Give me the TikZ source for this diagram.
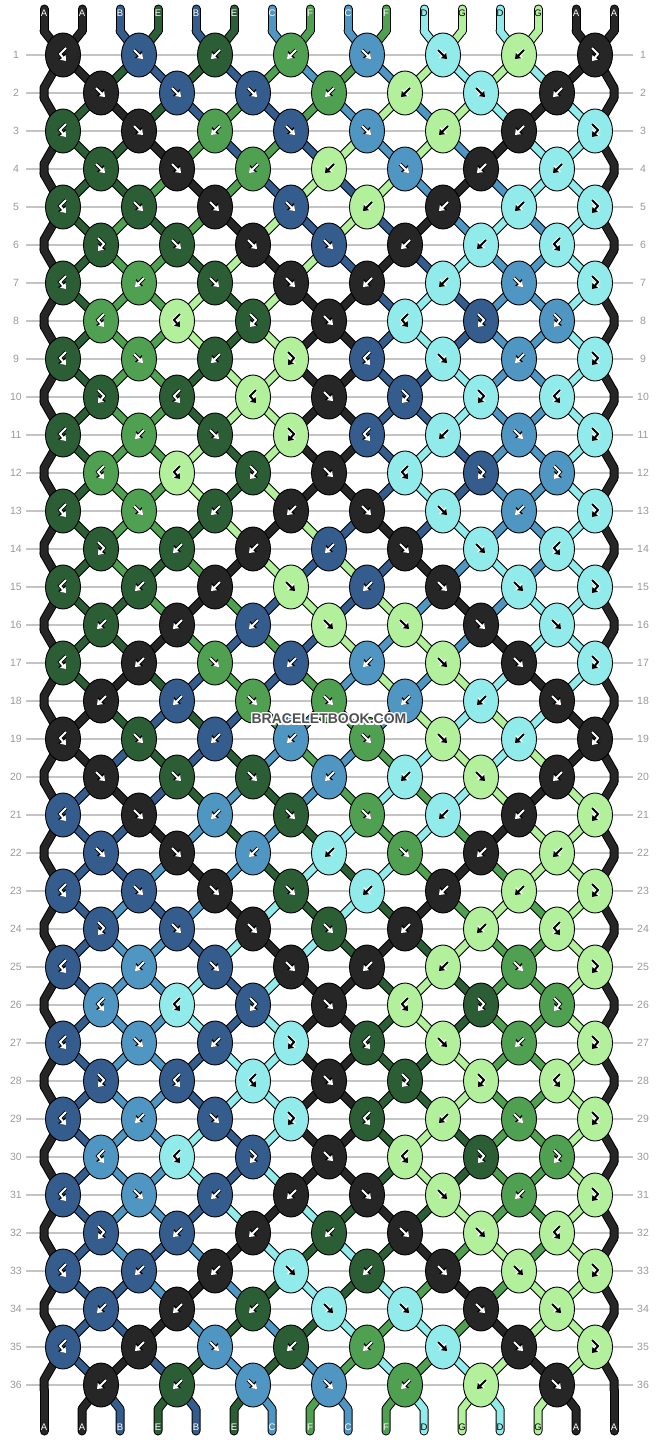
\documentclass[tikz,border=0pt]{standalone}
\usepackage{fontspec}
\setmainfont{Liberation Sans}
\usetikzlibrary{arrows.meta,shapes.geometric}
\pgfdeclarelayer{gridlayer}
\pgfdeclarelayer{soutlayer}
\pgfdeclarelayer{sfilllayer}
\pgfsetlayers{gridlayer,soutlayer,sfilllayer,main}

\definecolor{colA}{HTML}{262626}
\definecolor{colB}{HTML}{345C8C}
\definecolor{colE}{HTML}{2C5E36}
\definecolor{colC}{HTML}{5096C2}
\definecolor{colF}{HTML}{50A052}
\definecolor{colD}{HTML}{92EBEB}
\definecolor{colG}{HTML}{B2F09C}
\definecolor{gridgray}{HTML}{C4C4C4}
\definecolor{labgray}{HTML}{9A9A9A}
\definecolor{wmgray}{HTML}{505050}

\def\ACA{white}\def\ACB{white}\def\ACE{white}\def\ACC{white}\def\ACF{white}\def\ACD{black}\def\ACG{black}
\def\OCA{black}\def\OCB{black}\def\OCE{black}\def\OCC{black}\def\OCF{black}\def\OCD{white}\def\OCG{white}

\expandafter\def\csname T1\endcsname{B,f,b,b,f,f,b,F}
\expandafter\def\csname T2\endcsname{f,f,f,b,b,f,b}
\expandafter\def\csname T3\endcsname{B,f,b,f,f,b,b,F}
\expandafter\def\csname T4\endcsname{f,f,b,b,f,b,b}
\expandafter\def\csname T5\endcsname{B,f,f,f,b,b,b,F}
\expandafter\def\csname T6\endcsname{F,f,f,f,b,b,B}
\expandafter\def\csname T7\endcsname{B,b,f,f,b,b,f,F}
\expandafter\def\csname T8\endcsname{B,B,F,f,B,F,F}
\expandafter\def\csname T9\endcsname{B,f,b,F,B,f,b,F}
\expandafter\def\csname T10\endcsname{F,B,B,f,F,F,B}
\expandafter\def\csname T11\endcsname{B,b,f,F,B,b,f,F}
\expandafter\def\csname T12\endcsname{B,B,F,f,B,F,F}
\expandafter\def\csname T13\endcsname{B,f,b,b,f,f,b,F}
\expandafter\def\csname T14\endcsname{F,b,b,b,f,f,B}
\expandafter\def\csname T15\endcsname{B,b,b,f,b,f,f,F}
\expandafter\def\csname T16\endcsname{b,b,b,f,f,f,f}
\expandafter\def\csname T17\endcsname{B,b,f,b,b,f,f,F}
\expandafter\def\csname T18\endcsname{b,b,f,f,b,b,f}

\tikzset{
  knot/.style={ellipse, draw=black, line width=0.9pt, minimum width=35pt, minimum height=44pt, inner sep=0pt},
  strout/.style={line width=9pt, draw=black, line cap=round, line join=round},
  strfill/.style={line width=7pt, line cap=round, line join=round},
  arr/.style={draw=#1, line width=2pt, line join=miter, -{Triangle[length=4.8pt,width=7pt]}},
  arro/.style={draw=#1, line width=3.6pt, line join=miter, -{Triangle[length=6.5pt,width=9.5pt]}},
  rowlab/.style={text=labgray, font=\fontsize{10.5}{12}\selectfont, inner sep=0pt},
  strlab/.style={font=\fontsize{9.5}{11}\selectfont, inner sep=0pt},
  gridline/.style={draw=gridgray, line width=1.3pt},
  wm/.style={font=\fontsize{14}{16}\selectfont\bfseries, inner sep=0pt},
}

\def\simmode{0}
\newcommand\strseg[3]{%
  \ifnum\simmode=1
    \edef\segcmd{\noexpand\draw[strout] (#1.center) -- (#2.center);}\segcmd
  \fi
  \ifnum\simmode=2
    \edef\segcmd{\noexpand\draw[strfill,draw=col#3] (#1.center) -- (#2.center);}\segcmd
  \fi}
\newcommand\edgeseg[4]{%
  \ifnum\simmode=1
    \edef\segcmd{\noexpand\draw[strout] (#1.center) -- (#2.center) -- (#3.center);}\segcmd
  \fi
  \ifnum\simmode=2
    \edef\segcmd{\noexpand\draw[strfill,draw=col#4] (#1.center) -- (#2.center) -- (#3.center);}\segcmd
  \fi}

\newcommand\glyph[4]{% type, x, y, style
  \if#1f\draw[#4] (#2-5,#3-5) -- (#2+4,#3+4);\fi
  \if#1b\draw[#4] (#2+5,#3-5) -- (#2-4,#3+4);\fi
  \if#1F\draw[#4] (#2-3,#3-7) -- (#2+3,#3-1) -- (#2-3,#3+6);\fi
  \if#1B\draw[#4] (#2+3,#3-7) -- (#2-3,#3-1) -- (#2+3,#3+6);\fi}

\newcommand\runsim[1]{%
  \gdef\simmode{#1}%
  \foreach \lt [count=\si from 0] in {A,A,B,E,B,E,C,F,C,F,D,G,D,G,A,A}{%
    \expandafter\xdef\csname S\si\endcsname{\lt}%
    \expandafter\xdef\csname P\si\endcsname{t\si}%
    \strseg{tt\si}{t\si}{\lt}%
  }%
  \foreach \row in {1,...,36}{%
    \pgfmathtruncatemacro\rr{mod(\row-1,18)+1}%
    \pgfmathsetmacro\y{55+38*(\row-1)}%
    \pgfmathtruncatemacro\isodd{mod(\row,2)}%
    \edef\typelist{\csname T\rr\endcsname}%
    \foreach \ty [count=\kk from 0] in \typelist {%
      \pgfmathtruncatemacro\si{2*\kk+1-\isodd}%
      \pgfmathtruncatemacro\sj{\si+1}%
      \pgfmathsetmacro\kx{101-38*\isodd+76*\kk}%
      \edef\colL{\csname S\si\endcsname}%
      \edef\colR{\csname S\sj\endcsname}%
      \edef\pa{\csname P\si\endcsname}%
      \edef\pb{\csname P\sj\endcsname}%
      \let\kc\colR
      \def\sw{0}%
      \if\ty f\let\kc\colL\def\sw{1}\fi
      \if\ty b\def\sw{1}\fi
      \if\ty F\let\kc\colL\fi
      \ifnum\simmode=0
        \edef\ac{\csname AC\kc\endcsname}%
        \edef\oc{\csname OC\kc\endcsname}%
        \node[knot, fill=col\kc] (k\row-\kk) at (\kx,\y) {};
        \glyph{\ty}{\kx}{\y}{arro=\oc}%
        \glyph{\ty}{\kx}{\y}{arr=\ac}%
      \fi
      \strseg{\pa}{k\row-\kk}{\colL}%
      \strseg{\pb}{k\row-\kk}{\colR}%
      \expandafter\xdef\csname P\si\endcsname{k\row-\kk}%
      \expandafter\xdef\csname P\sj\endcsname{k\row-\kk}%
      \ifnum\sw=1
        \expandafter\xdef\csname S\si\endcsname{\colR}%
        \expandafter\xdef\csname S\sj\endcsname{\colL}%
      \fi
    }%
    \ifnum\isodd=0
      \coordinate (ela\row) at (44,\y-5);
      \coordinate (elb\row) at (44,\y+5);
      \coordinate (era\row) at (614,\y-5);
      \coordinate (erb\row) at (614,\y+5);
      \edgeseg{\csname P0\endcsname}{ela\row}{elb\row}{\csname S0\endcsname}%
      \edgeseg{\csname P15\endcsname}{era\row}{erb\row}{\csname S15\endcsname}%
      \expandafter\xdef\csname P0\endcsname{elb\row}%
      \expandafter\xdef\csname P15\endcsname{erb\row}%
    \fi
  }%
  \foreach \si in {0,...,15}{%
    \edef\pa{\csname P\si\endcsname}%
    \edef\lt{\csname S\si\endcsname}%
    \edgeseg{\pa}{bb\si}{be\si}{\lt}%
  }%
}

\begin{document}
\begin{tikzpicture}[x=1pt,y=-1pt]
\useasboundingbox (0,0) rectangle (658,1440);

% background, grid lines and row numbers
\begin{pgfonlayer}{gridlayer}
\fill[white] (0,0) rectangle (658,1440);
\foreach \row in {1,...,36}{
  \pgfmathsetmacro\y{55+38*(\row-1)}
  \draw[gridline] (26,\y) -- (633,\y);
}
\end{pgfonlayer}
\foreach \row in {1,...,36}{
  \pgfmathsetmacro\y{55+38*(\row-1)}
  \node[rowlab] (ll\row) at (16,\y) {\row};
  \node[rowlab] (lr\row) at (643,\y) {\row};
}

% string end points
\foreach \si in {0,...,15}{
  \pgfmathsetmacro\sx{44+38*\si}
  \coordinate (tt\si) at (\sx,9);
  \coordinate (t\si) at (\sx,31);
  \coordinate (bb\si) at (\sx,1409);
  \coordinate (be\si) at (\sx,1431);
}

% knots (main layer), then strings on the lower layers
\runsim{0}
\begin{pgfonlayer}{soutlayer}
\runsim{1}
\end{pgfonlayer}
\begin{pgfonlayer}{sfilllayer}
\runsim{2}
\end{pgfonlayer}

% string letters
\foreach \lt [count=\si from 0] in {A,A,B,E,B,E,C,F,C,F,D,G,D,G,A,A}{
  \pgfmathsetmacro\sx{44+38*\si}
  \edef\tc{\csname AC\lt\endcsname}
  \node[strlab, text=\tc] (tl\si) at (\sx,13) {\lt};
}
\foreach \si in {0,...,15}{
  \pgfmathsetmacro\sx{44+38*\si}
  \edef\lt{\csname S\si\endcsname}
  \edef\tc{\csname AC\lt\endcsname}
  \node[strlab, text=\tc] (bl\si) at (\sx,1427) {\lt};
}

% watermark
\foreach \dx/\dy [count=\n] in {-1.2/-1.2,0/-1.2,1.2/-1.2,-1.2/0,1.2/0,-1.2/1.2,0/1.2,1.2/1.2}{
  \node[wm, text=white] (wmh\n) at (329+\dx,719+\dy) {BRACELETBOOK.COM};
}
\node[wm, text=wmgray] (wmark) at (329,719) {BRACELETBOOK.COM};
\end{tikzpicture}
\end{document}
